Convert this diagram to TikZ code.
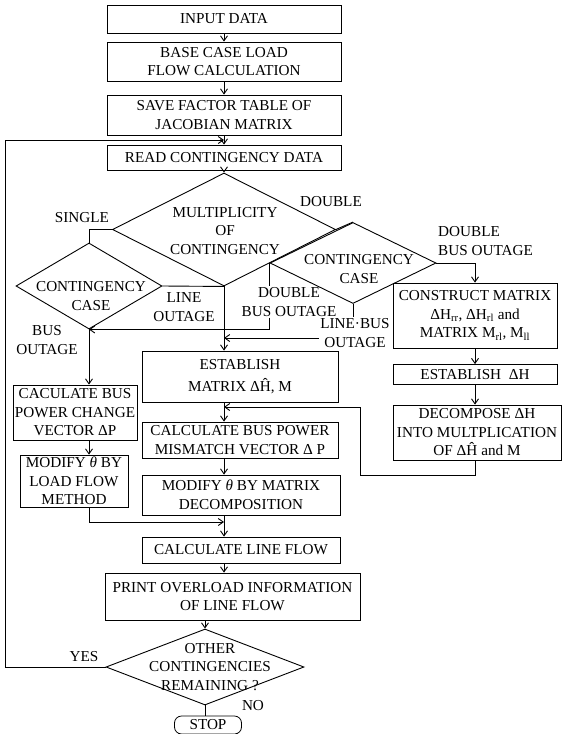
\documentclass[tikz,border=0pt]{standalone}
\usepackage{fontspec}
\setmainfont{Liberation Serif}
\usetikzlibrary{shapes.geometric,arrows.meta}
\begin{document}
\begin{tikzpicture}[x=1pt,y=-1pt,
  every node/.style={font=\fontsize{15.2}{18.5}\selectfont, align=center},
  box/.style={draw, line width=0.8pt, inner sep=0.5pt},
  dia/.style={draw, diamond, line width=0.9pt, inner sep=0pt},
  lbl/.style={inner sep=1pt},
  ln/.style={line width=0.9pt},
  arr/.style={ln, -{Straight Barb[length=5pt,width=7pt]}}]
\useasboundingbox (0,0) rectangle (564,734);
% ---- main column (top)
\node[box, minimum width=234pt, minimum height=28pt] (in) at (224,19) {INPUT DATA};
\node[box, minimum width=234pt, minimum height=39pt] (base) at (224,61.5) {BASE CASE LOAD\\FLOW CALCULATION};
\node[box, minimum width=234pt, minimum height=40pt] (save) at (224,115) {SAVE FACTOR TABLE OF\\JACOBIAN MATRIX};
\node[box, minimum width=234pt, minimum height=25pt] (read) at (224,157.5) {READ CONTINGENCY DATA};
% ---- decisions
\node[dia, minimum width=223pt, minimum height=113pt] (m) at (224,229.5) {};
\node[lbl] (mt) at (225,231) {MULTIPLICITY\\OF\\CONTINGENCY};
\node[dia, minimum width=146pt, minimum height=86pt] (lc) at (89,286) {};
\node[lbl] (lct) at (91,296) {CONTINGENCY\\CASE};
\node[dia, minimum width=166pt, minimum height=81pt] (d2) at (353,263) {};
\node[lbl] (d2t) at (359,269) {CONTINGENCY\\CASE};
% ---- right branch
\node[box, minimum width=164pt, minimum height=65pt] (cm) at (475,315.5) {CONSTRUCT MATRIX\\ΔH\textsubscript{rr}, ΔH\textsubscript{rl} and\\MATRIX M\textsubscript{rl}, M\textsubscript{ll}};
\node[box, minimum width=164pt, minimum height=20pt] (eh) at (475,374.5) {ESTABLISH \ ΔH};
\node[box, minimum width=168pt, minimum height=55pt] (dec) at (477,432.5) {DECOMPOSE ΔH\\INTO MULTPLICATION\\OF ΔĤ and M};
% ---- middle column
\node[box, minimum width=196pt, minimum height=51pt] (est) at (240,376.5) {ESTABLISH\\[3pt]MATRIX ΔĤ, M};
\node[box, minimum width=196pt, minimum height=36pt] (cp) at (240,440) {CALCULATE BUS POWER\\MISMATCH VECTOR Δ P};
\node[box, minimum width=198pt, minimum height=40pt] (mm) at (241,495) {MODIFY \textit{θ} BY MATRIX\\DECOMPOSITION};
% ---- left column
\node[box, minimum width=124pt, minimum height=55pt] (cb) at (75,412.5) {CACULATE BUS\\POWER CHANGE\\VECTOR ΔP};
\node[box, minimum width=108pt, minimum height=52pt] (mf) at (74,481) {MODIFY \textit{θ} BY\\LOAD FLOW\\METHOD};
% ---- bottom
\node[box, minimum width=198pt, minimum height=26pt] (clf) at (241,550) {CALCULATE LINE FLOW};
\node[box, minimum width=255pt, minimum height=47pt] (pr) at (232.5,596.5) {PRINT OVERLOAD INFORMATION\\OF LINE FLOW};
\node[dia, minimum width=198pt, minimum height=76pt] (od) at (205,667) {};
\node[lbl] (odt) at (210,667) {OTHER\\CONTINGENCIES\\REMAINING ?};
\node[box, rounded corners=7pt, minimum width=67pt, minimum height=18pt, inner sep=0pt] (stop) at (208,725) {STOP};
% ---- labels
\node[lbl] (lsingle) at (82,218) {SINGLE};
\node[lbl] (ldouble) at (331,202) {DOUBLE};
\node[lbl] (lline) at (184,307) {LINE\\OUTAGE};
\node[lbl] (lbus) at (47,340) {BUS\\OUTAGE};
\node[lbl] (ldbo) at (289,302) {DOUBLE\\BUS OUTAGE};
\node[lbl] (llb) at (355,333) {LINE·BUS\\OUTAGE};
\node[lbl, anchor=west, align=left] (lrdbo) at (437,241) {DOUBLE\\BUS OUTAGE};
\node[lbl] (lyes) at (84,657) {YES};
\node[lbl] (lno) at (253,706) {NO};
% ---- junction coordinates
\coordinate (j0) at (224,140);
\coordinate (lp) at (5,140);
\coordinate (j1) at (224,338);
\coordinate (j2) at (224,407);
\coordinate (j3) at (224,522);
\coordinate (rx) at (360,475);
% ---- connectors
\draw[arr] (in.south) -- (base.north);
\draw[arr] (base.south) -- (save.north);
\draw[arr] (save.south) -- (read.north);
\draw[arr] (read.south) -- (m.north);
\draw[ln] (m.west) -| (lc.north);
\draw[ln] (m.east) -- (d2.north);
\draw[ln] (lc.east) -- (m.south);
\draw[arr] (m.south) -- (m.south |- est.north);
\draw[ln] (d2.west) -- (d2.west |- ldbo.north);
\draw[arr] (d2.west |- ldbo.south) |- (lc.south);
\draw[ln] (d2.south) -- (d2.south |- llb.north);
\draw[arr] (llb.west |- j1) -- (j1);
\draw[arr] (d2.east) -| (cm.north);
\draw[arr] (cm.south) -- (eh.north);
\draw[arr] (eh.south) -- (eh.south |- dec.north);
\draw[arr] (eh.south |- dec.south) |- (rx) |- (j2);
\draw[arr] (lc.south) -- (lc.south |- cb.north);
\draw[arr] (cb.south -| lc.south) -- (mf.north -| lc.south);
\draw[arr] (mf.south -| lc.south) |- (j3);
\draw[arr] (est.south -| m.south) -- (cp.north -| m.south);
\draw[arr] (cp.south -| m.south) -- (mm.north -| m.south);
\draw[arr] (mm.south -| m.south) -- (clf.north -| m.south);
\draw[arr] (clf.south -| m.south) -- (pr.north -| m.south);
\draw[arr] (pr.south -| od.north) -- (od.north);
\draw[ln] (od.south) -- (od.south |- stop.north);
\draw[arr] (od.west) -| (lp) -- (j0);
\end{tikzpicture}
\end{document}
